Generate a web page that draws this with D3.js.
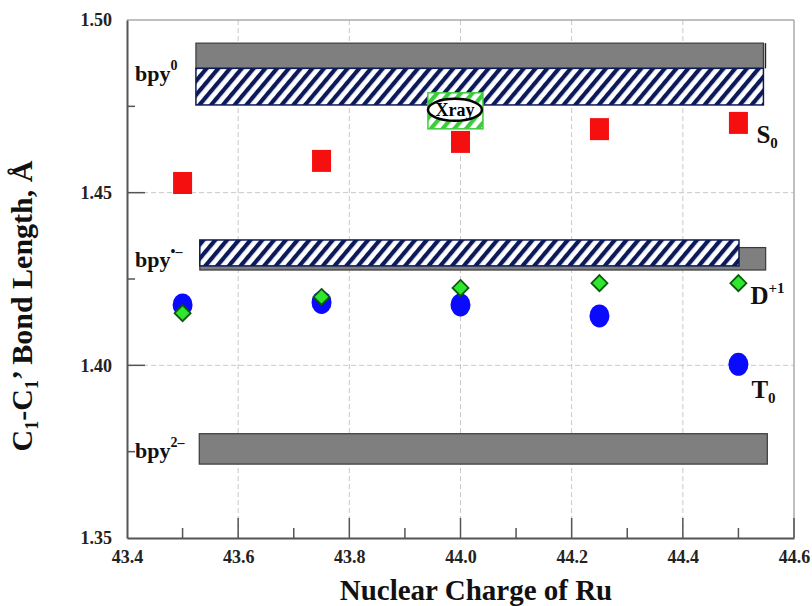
<!DOCTYPE html>
<html>
<head>
<meta charset="utf-8">
<script src="https://cdn.jsdelivr.net/npm/d3@7"></script>
<style>
  body { margin: 0; background: #fff; }
  text { font-family: "Liberation Serif", "Times New Roman", serif; font-weight: bold; }
</style>
</head>
<body>
<div id="chart"></div>
<script>
// C1-C1' bond length vs nuclear charge of Ru

// Data
const charges = [43.5, 43.75, 44.0, 44.25, 44.5];
const s0Values = [1.4528, 1.4592, 1.4647, 1.4684, 1.4702];
const t0Values = [1.4175, 1.4182, 1.4175, 1.4143, 1.4003];
const d1Values = [1.4151, 1.4198, 1.4224, 1.4238, 1.4238];

// reference bands (bpy states): [x0, x1, yLow, yHigh]
const grayBands = [
  [43.524, 44.545, 1.4860, 1.4933],   // bpy0
  [43.531, 44.549, 1.4276, 1.4341],   // bpy.-
  [43.530, 44.552, 1.3714, 1.3802]    // bpy2-
];
const hatchBands = [
  [43.524, 44.545, 1.4754, 1.4860],   // bpy0
  [43.531, 44.501, 1.4288, 1.4363]    // bpy.-
];
const xray = { x: 43.99, y: 1.4737 };

const xTicks = [43.4, 43.6, 43.8, 44.0, 44.2, 44.4, 44.6];
const yTicks = [1.35, 1.40, 1.45, 1.50];

// Dimensions
const margin = { top: 20, right: 18, bottom: 68, left: 127 };
const width = 812 - margin.left - margin.right;
const height = 606 - margin.top - margin.bottom;

const svg = d3.select("#chart")
  .append("svg")
  .attr("width", 812)
  .attr("height", 606);

const defs = svg.append("defs");
function stripes(id, color, bg) {
  const p = defs.append("pattern")
    .attr("id", id)
    .attr("patternUnits", "userSpaceOnUse")
    .attr("width", 9).attr("height", 9)
    .attr("patternTransform", "rotate(40)");
  p.append("rect").attr("width", 9).attr("height", 9).attr("fill", bg);
  p.append("rect").attr("width", 4.2).attr("height", 9).attr("fill", color);
}
stripes("navyHatch", "#0c1a5a", "#fff");
stripes("greenHatch", "#3ccc3c", "#fff");

const g = svg.append("g")
  .attr("transform", "translate(" + margin.left + "," + margin.top + ")");

const x = d3.scaleLinear().domain([43.4, 44.6]).range([0, width]);
const y = d3.scaleLinear().domain([1.35, 1.50]).range([height, 0]);

// grid
g.selectAll(".vgrid")
  .data(xTicks.slice(1, -1))
  .enter().append("line")
  .attr("x1", d => x(d)).attr("x2", d => x(d))
  .attr("y1", 0).attr("y2", height)
  .attr("stroke", "#c8c8c8").attr("stroke-dasharray", "5,3");
g.selectAll(".hgrid")
  .data(yTicks.slice(1, -1))
  .enter().append("line")
  .attr("x1", 0).attr("x2", width)
  .attr("y1", d => y(d)).attr("y2", d => y(d))
  .attr("stroke", "#c8c8c8").attr("stroke-dasharray", "5,3");

// frame top / right
g.append("line").attr("x1", 0).attr("x2", width).attr("y1", 0).attr("y2", 0)
  .attr("stroke", "#aaa").attr("stroke-width", 1.5);
g.append("line").attr("x1", width).attr("x2", width).attr("y1", 0).attr("y2", height)
  .attr("stroke", "#aaa").attr("stroke-width", 1.5);

// gray bands
g.selectAll(".gband")
  .data(grayBands)
  .enter().append("rect")
  .attr("x", d => x(d[0]))
  .attr("width", d => x(d[1]) - x(d[0]))
  .attr("y", d => y(d[3]))
  .attr("height", d => y(d[2]) - y(d[3]))
  .attr("fill", "#7f7f7f")
  .attr("stroke", "#3a3a3a")
  .attr("stroke-width", 1.2);

// hatched bands
g.selectAll(".hband")
  .data(hatchBands)
  .enter().append("rect")
  .attr("x", d => x(d[0]))
  .attr("width", d => x(d[1]) - x(d[0]))
  .attr("y", d => y(d[3]))
  .attr("height", d => y(d[2]) - y(d[3]))
  .attr("fill", "url(#navyHatch)")
  .attr("stroke", "#0c1a5a")
  .attr("stroke-width", 1.5);

// small end mark on bpy0 band
g.append("line")
  .attr("x1", x(grayBands[0][1]) + 2).attr("x2", x(grayBands[0][1]) + 2)
  .attr("y1", y(grayBands[0][3])).attr("y2", y(grayBands[0][2]))
  .attr("stroke", "#222").attr("stroke-width", 1.5);

// Xray marker
const xr = g.append("g").attr("transform", "translate(" + x(xray.x) + "," + y(xray.y) + ")");
xr.append("rect")
  .attr("x", -27).attr("y", -18).attr("width", 55).attr("height", 36)
  .attr("fill", "url(#greenHatch)").attr("stroke", "#3ccc3c").attr("stroke-width", 1.5);
xr.append("ellipse")
  .attr("cx", 0).attr("cy", -1).attr("rx", 27).attr("ry", 11)
  .attr("fill", "#fff").attr("stroke", "#000").attr("stroke-width", 2.5);
xr.append("text")
  .attr("x", 0).attr("y", 5)
  .attr("text-anchor", "middle")
  .style("font-size", "18px")
  .text("Xray");

// axes
const xAxis = d3.axisBottom(x).tickValues(xTicks).tickSize(0).tickFormat(d3.format(".1f"));
const gx = g.append("g").attr("transform", "translate(0," + height + ")").call(xAxis);
gx.select(".domain").attr("stroke", "#555").attr("stroke-width", 2);
gx.selectAll("text").attr("dy", "1.2em").style("font-size", "18px").attr("fill", "#222");

const yAxis = d3.axisLeft(y).tickValues(yTicks).tickSize(0).tickPadding(15).tickFormat(d3.format(".2f"));
const gy = g.append("g").call(yAxis);
gy.select(".domain").attr("stroke", "#555").attr("stroke-width", 2);
gy.selectAll("text").style("font-size", "18px").attr("fill", "#222");

// inward ticks
g.selectAll(".xtick")
  .data(d3.range(43.5, 44.6, 0.1).map(v => +v.toFixed(1)))
  .enter().append("line")
  .attr("x1", d => x(d)).attr("x2", d => x(d))
  .attr("y1", height)
  .attr("y2", d => height - (Math.round(d * 10) % 2 === 0 ? 20 : 10))
  .attr("stroke", "#555").attr("stroke-width", 1.5);
g.selectAll(".ytick")
  .data(d3.range(1.375, 1.5, 0.025).map(v => +v.toFixed(3)))
  .enter().append("line")
  .attr("x1", 0)
  .attr("x2", d => (Math.round(d * 1000) % 50 === 0 ? 18 : 8))
  .attr("y1", d => y(d)).attr("y2", d => y(d))
  .attr("stroke", "#555").attr("stroke-width", 1.5);

// S0 squares
g.selectAll(".s0")
  .data(charges)
  .enter().append("rect")
  .attr("x", d => x(d) - 9.5)
  .attr("y", (d, i) => y(s0Values[i]) - 11)
  .attr("width", 19).attr("height", 22)
  .attr("fill", "#f50f0f");

// T0 circles
g.selectAll(".t0")
  .data(charges)
  .enter().append("ellipse")
  .attr("cx", d => x(d))
  .attr("cy", (d, i) => y(t0Values[i]))
  .attr("rx", 10).attr("ry", 11.5)
  .attr("fill", "#0a0aff");

// D+1 diamonds
g.selectAll(".d1")
  .data(charges)
  .enter().append("path")
  .attr("d", "M0,-8 L8,0 L0,8 L-8,0 Z")
  .attr("transform", (d, i) => "translate(" + x(d) + "," + y(d1Values[i]) + ")")
  .attr("fill", "#2ee82e")
  .attr("stroke", "#0b5a0b")
  .attr("stroke-width", 1.8);

// series labels
function label(px, py, base, sup, sub) {
  const t = g.append("text").attr("x", px).attr("y", py).style("font-size", "25px").attr("fill", "#111");
  t.append("tspan").text(base);
  if (sup) t.append("tspan").attr("dy", -11).style("font-size", "15px").text(sup);
  if (sub) t.append("tspan").attr("dy", 5).style("font-size", "15px").text(sub);
}
const last = charges.length - 1;
label(x(charges[last]) + 18, y(s0Values[last]) + 20, "S", null, "0");
label(x(charges[last]) + 12, y(d1Values[last]) + 21, "D", "+1", null);
label(x(charges[last]) + 13, y(t0Values[last]) + 34, "T", null, "0");

// bpy labels
function bpyLabel(py, sup) {
  const t = g.append("text").attr("x", 8).attr("y", py).style("font-size", "22px").attr("fill", "#111");
  t.append("tspan").text("bpy");
  t.append("tspan").attr("dy", -11).style("font-size", "14px").text(sup);
}
bpyLabel(y(1.4860) + 13, "0");
bpyLabel(y(1.4315) + 10, "\u2022\u2013");
bpyLabel(y(1.3760) + 10, "2\u2013");

// axis titles
svg.append("text")
  .attr("x", 476)
  .attr("y", 600)
  .attr("text-anchor", "middle")
  .style("font-size", "29px")
  .attr("fill", "#111")
  .text("Nuclear Charge of Ru");

const yt = svg.append("text")
  .attr("transform", "translate(32," + 306 + ") rotate(-90)")
  .attr("text-anchor", "middle")
  .style("font-size", "30px")
  .attr("fill", "#111");
yt.append("tspan").text("C");
yt.append("tspan").attr("dy", 6).style("font-size", "18px").text("1");
yt.append("tspan").attr("dy", -6).text("-C");
yt.append("tspan").attr("dy", 6).style("font-size", "18px").text("1");
yt.append("tspan").attr("dy", -6).text("\u2019 Bond Length, \u00C5");
</script>
</body>
</html>
